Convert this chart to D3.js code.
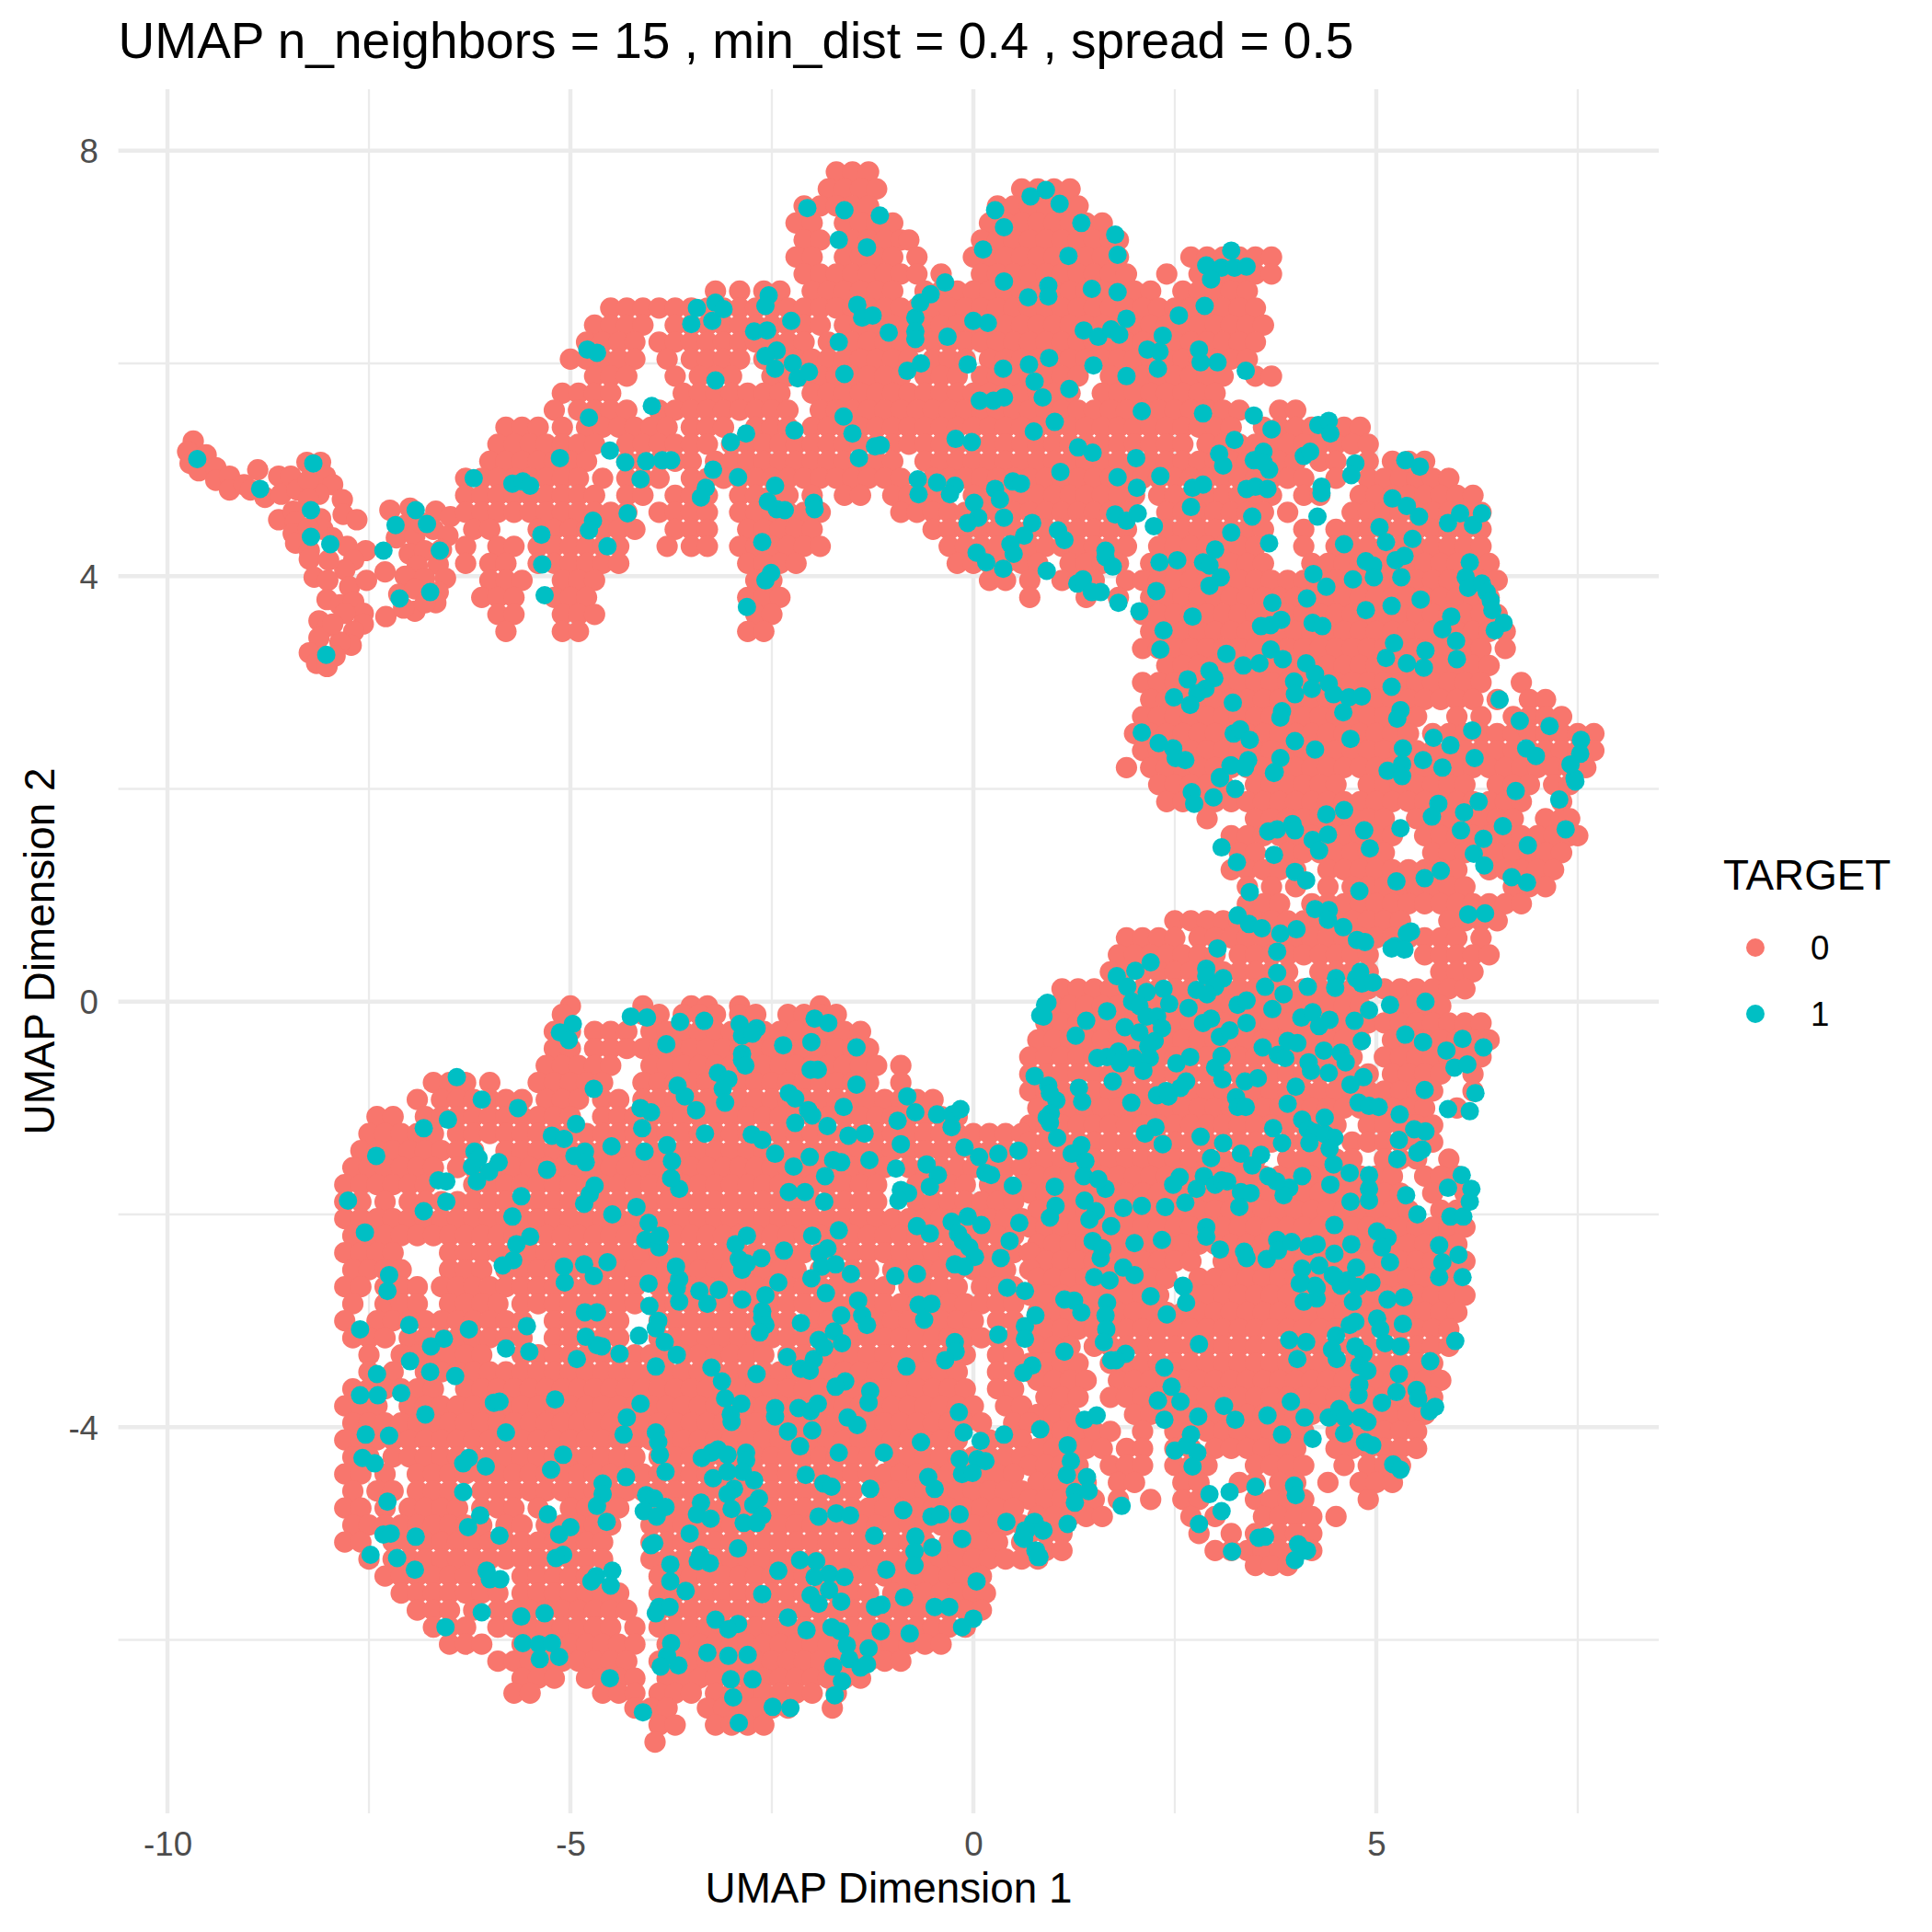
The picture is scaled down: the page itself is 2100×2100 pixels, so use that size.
<!DOCTYPE html>
<html><head><meta charset="utf-8"><script src="https://cdn.jsdelivr.net/npm/d3@7"></script>
<style>html,body{margin:0;padding:0;background:#fff}svg{display:block}</style></head><body>
<svg id="c" width="2100" height="2100"></svg>
<script>
const titleText="UMAP n_neighbors = 15 , min_dist = 0.4 , spread = 0.5";
const xLabel="UMAP Dimension 1", yLabel="UMAP Dimension 2", legendTitle="TARGET";
const categories=["0","1"];
const xMajor=[-10,-5,0,5], xMinor=[-7.5,-2.5,2.5,7.5];
const yMajor=[-4,0,4,8], yMinor=[-6,-2,2,6];
const redTail=[[-9.68,5.27],[-9.75,5.17],[-9.72,5.06],[-9.61,4.99],[-9.52,5.14],[-9.4,5.02],[-9.4,4.9],[-9.23,4.94],[-9.23,4.81],[-9.05,4.86],[-8.88,5],[-8.97,4.81],[-8.79,4.74],[-8.62,4.94],[-8.59,4.77],[-8.47,4.94],[-8.39,4.81],[-8.27,5.07],[-8.1,5.07],[-8.04,4.94],[-7.95,4.86],[-8.12,4.77],[-7.83,4.72],[-7.82,4.58],[-7.65,4.53],[-8.25,4.9],[-8.25,4.72],[-8.62,4.53],[-8.44,4.61],[-8.41,4.51],[-8.1,4.54],[-8.44,4.4],[-8.41,4.31],[-8.07,4.44],[-8.24,4.24],[-8.24,4.16],[-8.25,4.45],[-7.95,4.36],[-7.77,4.28],[-7.54,4.24],[-7.69,4.15],[-7.8,4.06],[-8.18,3.99],[-8.01,3.96],[-7.74,3.9],[-7.53,3.96],[-7.3,4.04],[-8.02,3.78],[-7.86,3.73],[-7.69,3.76],[-7.57,3.65],[-7.8,3.65],[-7.57,3.55],[-7.69,3.48],[-7.72,3.35],[-7.86,3.38],[-8.12,3.58],[-8.01,3.53],[-8.12,3.42],[-8.24,3.28],[-8.15,3.18],[-8.02,3.15],[-7.92,3.25],[-7.29,3.62],[-8.0,4.15],[-7.95,3.55],[-7.24,4.62],[-6.99,4.64],[-6.67,4.61],[-7.05,4.48],[-6.49,4.56],[-7.16,4.36],[-6.93,4.38],[-6.7,4.44],[-6.52,4.38],[-7,4.21],[-6.81,4.24],[-6.64,4.11],[-6.9,4.1],[-7.05,4],[-6.55,3.98],[-6.81,3.98],[-7.13,3.83],[-6.93,3.88],[-6.64,3.85],[-6.67,3.75],[-6.93,3.67],[-7.07,3.7],[-6.8,3.75],[-6.85,4.5],[-6.6,4.25]];
const redUpperRows=[
[7.8,-1.7,-1.5,-1.3],
[7.64,-1.8,-1.6,-1.4,-1.2,.6,.8,1,1.2],
[7.48,-2.1,-1.9,-1.7,-1.5,-1.3,.3,.5,.7,.9,1.1,1.3],
[7.32,-2.2,-2,-1.6,-1.4,-1.2,-1,.2,.4,.6,.8,1,1.2,1.4,1.6],
[7.16,-2.1,-1.9,-1.5,-1.3,-1.1,-.9,-.8,.1,.3,.5,.7,.9,1.1,1.3,1.5,1.7,1.8],
[7,-2.2,-2,-1.6,-1.4,-1.2,-1,-.7,0,.2,.4,.6,.8,1,1.2,1.4,1.6,1.8,2.7,2.9,3.1,3.3,3.5,3.7],
[6.84,-2.1,-1.9,-1.7,-1.5,-1.3,-1.1,-.9,-.7,-.4,.1,.3,.5,.7,.9,1.1,1.3,1.5,1.7,1.9,2.4,2.8,3.1,3.3,3.5,3.7],
[6.68,-3.2,-2.9,-2.6,-2.4,-2,-1.8,-1.6,-1.4,-1.2,-1,-.6,-.4,-.2,0,.2,.4,.6,.8,1,1.2,1.4,1.6,1.8,2,2.2,2.6,2.8,3,3.2,3.4],
[6.52,-4.5,-4.3,-4.1,-3.9,-3.7,-3.5,-3.3,-3.1,-2.9,-2.7,-2.5,-2.3,-2.1,-1.9,-1.7,-1.5,-1.3,-1.1,-.9,-.7,-.5,-.3,-.1,.1,.3,.5,.7,.9,1.1,1.3,1.5,1.7,1.9,2.1,2.3,2.5,2.7,2.9,3.1,3.3,3.5],
[6.36,-4.7,-4.5,-4.3,-4.1,-3.7,-3.5,-3.3,-3.1,-2.9,-2.7,-2.5,-2.3,-2.1,-1.9,-1.6,-1.4,-1.2,-1,-.8,-.6,-.4,-.2,0,.2,.4,.6,.8,1,1.2,1.4,1.6,1.8,2,2.2,2.4,2.6,2.8,3,3.2,3.4,3.6],
[6.2,-4.8,-4.6,-4.4,-4.2,-3.9,-3.7,-3.5,-3.3,-3.1,-2.9,-2.7,-2.5,-2.3,-2.1,-1.8,-1.5,-1.3,-1.1,-.9,-.7,-.5,-.3,-.1,.1,.3,.5,.7,.9,1.1,1.3,1.5,1.7,1.9,2.1,2.3,2.5,2.7,2.9,3.1,3.3,3.5],
[6.04,-5,-4.8,-4.6,-4.4,-4.2,-3.8,-3.5,-3.3,-3.1,-2.9,-2.6,-2.4,-2.2,-2,-1.8,-1.6,-1.4,-1.2,-1,-.8,-.5,-.3,-.1,.2,.4,.6,.8,1,1.2,1.4,1.6,1.8,2,2.2,2.4,2.6,2.8,3,3.2,3.4],
[5.88,-4.7,-4.5,-4.3,-3.7,-3.4,-3.2,-3,-2.5,-2.3,-2.1,-1.9,-1.7,-1.5,-1.3,-1.1,-.9,-.6,-.4,-.2,.1,.3,.5,.7,.9,1.1,1.3,1.7,1.9,2.1,2.3,2.5,2.7,2.9,3.1,3.5,3.7],
[5.72,-5.1,-4.9,-4.7,-4.5,-3.6,-3.4,-3.2,-3,-2.8,-2.6,-2.4,-2,-1.8,-1.6,-1.4,-1.2,-1,-.8,-.6,-.4,-.2,0,.2,.4,.6,.8,1,1.2,1.6,1.8,2,2.2,2.4,2.6,2.8,3],
[5.56,-5.2,-4.9,-4.7,-4.5,-4.3,-3.9,-3.7,-3.5,-3.3,-3.1,-2.9,-2.7,-2.5,-2.3,-1.9,-1.7,-1.5,-1.3,-1.1,-.9,-.7,-.5,-.3,-.1,.1,.3,.5,.7,.9,1.1,1.3,1.5,1.7,1.9,2.1,2.3,2.5,2.7,2.9,3.1,3.3,3.8,4],
[5.4,-5.8,-5.6,-5.4,-5.1,-4.8,-4.6,-4.4,-4.2,-4,-3.8,-3.5,-3.3,-3.1,-2.7,-2.5,-2.3,-2,-1.8,-1.6,-1.4,-1.2,-1,-.8,-.6,-.4,-.2,0,.2,.4,.6,.8,1,1.2,1.4,1.6,1.8,2,2.2,2.4,2.6,2.8,3,3.2,3.6,3.8,4,4.2,4.4,4.6,4.8],
[5.24,-5.9,-5.7,-5.5,-5.3,-5.1,-4.9,-4.7,-4.3,-4.1,-3.9,-3.7,-3.5,-3.3,-3,-2.8,-2.6,-2.4,-2.2,-2,-1.8,-1.6,-1.4,-1.2,-1,-.8,-.6,-.4,-.2,0,.2,.4,.6,.8,1,1.2,1.4,1.6,1.8,2,2.2,2.4,2.6,2.9,3.1,3.3,3.5,3.7,3.9,4.1,4.3,4.5,4.7,4.9],
[5.08,-6,-5.8,-5.6,-5.4,-5.2,-5,-4.8,-4.3,-4.1,-3.9,-3.7,-3.5,-3.2,-3,-2.8,-2.6,-2.4,-2.2,-2,-1.8,-1.6,-1.4,-1.2,-1,-.6,-.4,-.2,0,.2,.4,.6,.8,1,1.2,1.4,1.6,1.8,2,2.2,2.4,2.6,2.8,3,3.2,3.4,3.6,3.8,4,4.3,4.5,4.9,5.2,5.4,5.6],
[4.92,-6.3,-6.1,-5.9,-5.7,-5.5,-5.3,-5.1,-4.9,-4.6,-4.3,-4.1,-3.9,-3.5,-3.3,-3.1,-2.9,-2.7,-2.5,-2.3,-2.1,-1.9,-1.7,-1.5,-1.3,-1.1,-.9,-.5,-.3,-.1,.1,.3,.5,.7,.9,1.1,1.3,1.5,1.7,1.9,2.1,2.3,2.5,2.7,2.9,3.1,3.3,3.5,3.7,3.9,4.1,4.5,4.9,5.1,5.3,5.5,5.7,5.9],
[4.76,-6.3,-6.1,-5.9,-5.7,-5.5,-5.3,-5.1,-4.9,-4.7,-4.3,-4.1,-3.7,-3.5,-3.3,-2.9,-2.7,-2.5,-2.3,-2,-1.6,-1.4,-1,-.8,-.6,-.4,0,.2,.4,.6,.8,1,1.2,1.4,1.6,1.8,2,2.3,2.5,2.7,2.9,3.1,3.3,3.5,3.7,4.1,4.3,4.8,5,5.2,5.4,5.6,5.8,6,6.2],
[4.6,-6.3,-6.1,-5.9,-5.7,-5.5,-5.3,-5.1,-4.9,-4.7,-4.5,-4.3,-3.9,-3.7,-3.5,-3.3,-2.9,-2.7,-2.5,-2.3,-2.1,-1.9,-.9,-.7,-.5,-.3,-.1,.1,.3,.5,.7,.9,1.1,1.3,1.5,1.7,1.9,2.4,2.6,2.8,3,3.2,3.4,3.6,3.9,4.7,4.9,5.1,5.3,5.5,5.7,5.9,6.1,6.3],
[4.44,-6.2,-6,-5.4,-5.2,-5,-4.8,-4.6,-4.4,-4.2,-3.7,-3.5,-3.3,-2.8,-2.6,-2.4,-2.2,-2,-.5,-.3,-.1,.1,.3,.5,.7,.9,1.1,1.3,1.5,1.7,1.9,2.4,2.6,2.8,3,3.2,3.4,3.6,4.1,4.5,4.7,4.9,5.1,5.3,5.5,5.7,5.9,6.1,6.3],
[4.28,-6.3,-5.9,-5.7,-5.4,-5.2,-5,-4.8,-4.6,-4.4,-3.8,-3.5,-3.3,-2.9,-2.7,-2.5,-2.3,-2.1,-1.9,-.3,-.1,.1,.3,.5,.7,.9,1.1,1.3,1.5,1.7,1.9,2.3,2.5,2.7,2.9,3.1,3.3,3.5,4.1,4.5,4.7,4.9,5.1,5.3,5.5,5.7,5.9,6.1,6.3],
[4.12,-6.3,-6,-5.8,-5.4,-5.2,-5,-4.8,-4.6,-4.4,-2.8,-2.6,-2.4,-2.2,-.2,0,.2,.4,.6,.8,1.2,1.4,1.6,1.8,2.2,2.4,2.6,2.8,3,3.2,3.4,3.6,4.2,4.4,4.6,4.8,5,5.2,5.4,5.6,5.8,6,6.2,6.4],
[3.96,-6,-5.8,-5.6,-5.1,-4.9,-4.7,-2.7,-2.5,.2,.4,.7,1.1,1.3,1.5,1.9,2.1,2.3,2.5,2.7,2.9,3.1,3.3,3.5,3.7,3.9,4.1,4.3,4.5,4.7,4.9,5.1,5.3,5.5,5.7,5.9,6.1,6.3,6.5],
[3.8,-6.1,-5.9,-5.7,-5.2,-5,-4.8,-2.8,-2.6,-2.4,.7,1.4,1.8,2.2,2.4,2.6,2.8,3,3.2,3.4,3.6,3.8,4,4.2,4.4,4.6,4.8,5,5.2,5.4,5.6,5.8,6,6.2,6.4],
[3.64,-5.9,-5.7,-5.1,-4.9,-4.7,-2.7,-2.5,2.1,2.3,2.5,2.7,2.9,3.1,3.3,3.5,3.7,3.9,4.1,4.3,4.5,4.7,4.9,5.1,5.3,5.5,5.7,5.9,6.1,6.3,6.5],
[3.48,-5.8,-5.1,-4.9,-2.8,-2.6,2.2,2.4,2.6,2.8,3,3.2,3.4,3.6,3.8,4,4.2,4.4,4.6,4.8,5,5.2,5.4,5.6,5.8,6,6.2,6.4,6.6],
[3.32,2.1,2.3,2.5,2.7,2.9,3.1,3.3,3.5,3.7,3.9,4.1,4.3,4.5,4.7,4.9,5.1,5.3,5.5,5.7,5.9,6.1,6.3,6.6],
[3.16,2.4,2.6,2.8,3,3.2,3.4,3.6,3.8,4,4.2,4.4,4.6,4.8,5,5.2,5.4,5.6,5.8,6,6.2,6.4],
[3,2.1,2.3,2.5,2.7,2.9,3.1,3.3,3.5,3.7,3.9,4.1,4.3,4.5,4.7,4.9,5.1,5.3,5.5,5.7,5.9,6.1,6.3,6.8],
[2.84,2.2,2.4,2.6,2.8,3,3.2,3.4,3.6,3.8,4,4.2,4.4,4.6,4.8,5,5.2,5.4,5.6,5.8,6,6.2,6.5,6.9,7.1],
[2.68,2.1,2.3,2.5,2.7,2.9,3.1,3.3,3.5,3.7,3.9,4.1,4.3,4.5,4.7,4.9,5.1,5.3,5.5,6,6.3,6.7,6.9,7.1,7.3],
[2.52,2,2.2,2.4,2.6,2.8,3,3.2,3.4,3.6,3.8,4,4.2,4.4,4.6,4.8,5,5.2,5.4,5.7,5.9,6.1,6.3,6.5,6.7,6.9,7.1,7.3,7.5,7.7],
[2.36,2.1,2.3,2.5,2.7,2.9,3.1,3.3,3.5,3.7,3.9,4.1,4.3,4.5,4.7,4.9,5.1,5.3,5.5,5.7,5.9,6.1,6.3,6.5,6.7,6.9,7.1,7.3,7.5,7.7],
[2.2,1.9,2.2,2.4,2.6,2.8,3,3.2,3.4,3.6,3.8,4,4.2,4.4,4.6,4.8,5,5.2,5.4,5.6,5.8,6,6.2,6.4,6.6,6.8,7,7.2,7.4,7.6]];
const redRightRows=[
[2.04,2.3,2.5,2.7,2.9,3.1,3.5,3.7,3.9,4.1,4.3,4.5,4.9,5.1,5.3,5.5,5.7,5.9,6.1,6.5,6.7,6.9,7.2,7.4],
[1.88,2.4,2.6,2.8,3,3.2,3.4,3.6,3.8,4,4.2,4.4,4.6,4.8,5,5.2,5.4,5.6,5.8,6,6.2,6.4,6.6,6.8,7.3],
[1.72,2.9,3.5,3.7,3.9,4.1,4.3,4.5,4.7,4.9,5.1,5.5,5.7,5.9,6.1,6.3,6.5,6.7,7.1,7.3,7.4],
[1.56,3.2,3.4,3.6,3.8,4,4.2,4.4,4.6,4.8,5,5.2,5.6,5.8,6,6.2,6.4,6.6,6.8,7,7.2,7.4,7.5],
[1.4,3.3,3.5,3.9,4.1,4.3,4.5,4.7,4.9,5.1,5.7,5.9,6.1,6.3,6.5,6.7,6.9,7.1,7.3],
[1.24,3.2,3.4,3.6,3.8,4,4.4,4.6,4.8,5,5.2,5.4,5.6,5.8,6,6.4,6.6,6.8,7,7.2],
[1.08,3.4,3.7,4,4.4,4.7,4.9,5.1,5.3,5.5,5.7,5.9,6.1,6.7,6.9,7.1],
[.92,3.4,3.6,3.8,4.2,4.4,4.6,4.8,5,5.2,5.4,5.6,5.8,6,6.2,6.4,6.6,6.8],
[.76,2.5,2.7,2.9,3.1,3.3,3.5,3.7,3.9,4.1,4.3,4.5,4.7,4.9,5.1,5.3,5.9,6.1,6.3,6.5],
[.6,1.9,2.1,2.3,2.5,2.8,3,3.2,3.4,3.6,3.8,4,4.2,4.4,4.6,4.8,5,5.2,5.4,5.6,5.8,6,6.3],
[.44,1.8,2,2.2,2.4,2.6,2.8,3,3.3,3.5,3.7,3.9,4.1,4.3,4.5,4.7,4.9,5.6,5.8,6,6.2,6.4],
[.28,1.7,1.9,2.1,2.3,2.5,2.7,2.9,3.1,3.3,3.5,3.7,3.9,4.3,4.5,4.7,4.9,5.8,6,6.2],
[.12,1.1,1.3,1.5,1.7,1.9,2.1,2.3,2.5,2.7,2.9,3.1,3.3,3.5,3.7,3.9,4.1,4.3,4.5,4.7,4.9,5.1,5.3,5.5,5.7,5.9,6.1],
[-.04,1,1.2,1.4,1.6,1.8,2,2.2,2.4,2.6,2.8,3,3.2,3.4,3.6,3.8,4,4.2,4.4,4.6,4.8,5.2,5.4,5.6,5.8],
[-.2,.9,1.1,1.3,1.5,1.7,1.9,2.1,2.3,2.5,2.7,2.9,3.1,3.3,3.5,3.7,3.9,4.1,4.3,4.5,4.7,4.9,5.1,5.3,5.5,5.7,5.9,6.1,6.3]];
const redLowerRows=[
[-.04,-5,-4.1,-3.5,-3.3,-2.9,-1.9],
[-.12,-5.1,-4.1,-3.9,-3.6,-3.4,-3.2,-2.9,-2.7,-2.3,-2.1,-1.9,-1.7],
[-.28,-5.2,-5,-4.7,-4.5,-4.3,-4,-3.8,-3.6,-3.4,-3.2,-3,-2.8,-2.6,-2.4,-2.2,-2,-1.8,-1.6,-1.4],
[-.36,.8,1,1.2,1.4,1.6,1.8,2,2.2,2.4,2.6,2.8,3,3.2,3.4,3.6,3.8,4,4.2,4.4,4.6,4.8,5.2,5.4,5.6,5.8,6,6.2,6.4],
[-.44,-5.2,-5,-4.7,-4.5,-4.3,-4.1,-3.9,-3.7,-3.5,-3.3,-3.1,-2.9,-2.7,-2.5,-2.3,-2.1,-1.9,-1.7,-1.5,-1.3],
[-.52,.7,.9,1.1,1.3,1.5,1.7,1.9,2.1,2.3,2.5,2.7,2.9,3.1,3.3,3.5,3.7,3.9,4.1,4.3,4.5,4.7,5.1,5.3,5.5,5.7,5.9,6.1,6.3],
[-.6,-5.3,-5.1,-4.9,-4.7,-4.5,-4,-3.8,-3.6,-3.4,-3.2,-3,-2.8,-2.6,-2.4,-2.2,-2,-1.8,-1.6,-1.4,-1.2,-.9],
[-.68,.7,.9,1.1,1.3,1.5,1.7,1.9,2.1,2.3,2.5,2.7,2.9,3.1,3.3,3.5,3.7,3.9,4.1,4.3,4.5,4.7,4.9,5.2,5.4,5.6,5.8,6.2],
[-.76,-6.7,-6.5,-6.3,-6,-5.4,-5.2,-5,-4.8,-4.6,-4.1,-3.9,-3.7,-3.5,-3.3,-3.1,-2.9,-2.7,-2.5,-2.3,-2.1,-1.9,-1.7,-1.5,-1.3,-.9],
[-.84,.7,.9,1.1,1.3,1.5,1.7,1.9,2.1,2.3,2.5,2.7,2.9,3.1,3.3,3.5,3.7,3.9,4.1,4.3,4.5,4.7,4.9,5.1,5.3,5.5,5.7,6.2],
[-.92,-6.9,-6.6,-6.4,-6.2,-6,-5.8,-5.6,-5.3,-5.1,-4.9,-4.6,-4.4,-4.1,-3.9,-3.7,-3.5,-3.3,-3.1,-2.9,-2.7,-2.5,-2.3,-2.1,-1.9,-1.7,-1.5,-1.3,-1.1,-.9,-.7,-.5],
[-1,.8,1,1.2,1.4,1.6,1.8,2,2.2,2.4,2.6,2.8,3,3.2,3.4,3.6,3.8,4,4.2,4.4,4.6,4.8,5,5.2,5.4,5.6,6],
[-1.08,-7.4,-7.2,-6.8,-6.6,-6.4,-6.2,-6,-5.8,-5.6,-5.4,-5.2,-5,-4.6,-4.4,-4.2,-4,-3.8,-3.6,-3.4,-3.2,-3,-2.8,-2.6,-2.4,-2.2,-2,-1.8,-1.6,-1.4,-1.2,-1,-.8,-.6,-.4,-.2],
[-1.16,.7,.9,1.1,1.3,1.5,1.7,1.9,2.1,2.3,2.5,2.7,2.9,3.1,3.3,3.5,3.7,3.9,4.1,4.3,4.5,4.9,5.1,5.3,5.5,5.7],
[-1.24,-7.5,-7.3,-7.1,-6.9,-6.7,-6.4,-6.2,-6,-5.8,-5.6,-5.4,-5.2,-5,-4.8,-4.6,-4.4,-4.2,-4,-3.8,-3.6,-3.4,-3.2,-3,-2.8,-2.6,-2.4,-2.2,-2,-1.8,-1.6,-1.4,-1.2,-1,-.8,-.6,-.4,-.2,0,.2,.4,.6],
[-1.32,.7,.9,1.1,1.3,1.5,1.7,1.9,2.1,2.3,2.5,2.7,2.9,3.1,3.3,3.5,3.7,3.9,4.1,4.3,4.7,4.9,5.1,5.3,5.5,5.7],
[-1.4,-7.6,-7.4,-7.2,-7,-6.8,-6.6,-6.4,-6.2,-5.8,-5.6,-5.4,-5.2,-5,-4.8,-4.6,-4.4,-4.2,-4,-3.8,-3.6,-3.4,-3.2,-3,-2.8,-2.6,-2.4,-2.2,-2,-1.8,-1.6,-1.4,-1.2,-1,-.8,-.6,-.4,-.2,0,.2,.4,.6],
[-1.48,.7,.9,1.1,1.3,1.5,1.7,1.9,2.1,2.3,2.5,2.7,2.9,3.1,3.3,3.5,3.9,4.1,4.3,4.5,4.7,5.1,5.3,5.5,5.9],
[-1.56,-7.7,-7.5,-7.3,-7.1,-6.9,-6.7,-6.4,-6.2,-5.9,-5.7,-5.5,-5.3,-5.1,-4.9,-4.7,-4.5,-4.3,-4.1,-3.9,-3.7,-3.5,-3.3,-3.1,-2.9,-2.7,-2.5,-2.3,-2.1,-1.9,-1.7,-1.5,-1.3,-1.1,-.8,-.6,-.4,-.2,0,.2,.4,.6],
[-1.64,.8,1,1.2,1.4,1.6,1.8,2,2.2,2.4,2.6,2.8,3,3.2,3.4,3.6,3.8,4,4.2,4.4,4.6,4.8,5,5.2,5.6,5.8,6],
[-1.72,-7.8,-7.6,-7.4,-7.2,-7,-6.8,-6.2,-6,-5.8,-5.6,-5.4,-5.2,-5,-4.8,-4.6,-4.4,-4.2,-4,-3.8,-3.6,-3.4,-3.2,-3,-2.8,-2.6,-2.4,-2.2,-2,-1.8,-1.6,-1.4,-1.2,-.7,-.5,-.3,-.1,.2,.4,.6],
[-1.8,.7,.9,1.1,1.3,1.5,1.7,1.9,2.1,2.3,2.5,2.7,2.9,3.1,3.3,3.5,3.7,3.9,4.1,4.3,4.5,4.7,4.9,5.1,5.3,5.7,6.1],
[-1.88,-7.8,-7.6,-7.3,-7,-6.8,-6.6,-6.4,-6.2,-6,-5.8,-5.6,-5.4,-5.2,-5,-4.8,-4.6,-4.4,-4.2,-4,-3.8,-3.6,-3.4,-3.2,-3,-2.8,-2.6,-2.4,-2.2,-2,-1.8,-1.6,-1.4,-1.2,-.7,-.5,-.3,-.1,.1,.3,.5],
[-1.96,.8,1,1.2,1.4,1.6,1.8,2,2.2,2.4,2.6,2.8,3,3.2,3.4,3.6,3.8,4,4.2,4.4,4.6,4.8,5,5.2,5.4,5.8,6],
[-2.04,-7.8,-7.6,-7.4,-7.2,-7,-6.8,-6.6,-6.4,-6.2,-6,-5.8,-5.6,-5.4,-5.2,-5,-4.8,-4.6,-4.4,-4.2,-4,-3.8,-3.6,-3.4,-3.2,-3,-2.8,-2.6,-2.4,-2.2,-2,-1.8,-1.6,-1.4,-1.2,-1,-.8,-.6,-.4,-.2,0,.2,.4,.6],
[-2.12,.7,.9,1.1,1.3,1.5,1.7,1.9,2.1,2.3,2.5,2.7,2.9,3.1,3.3,3.5,3.7,3.9,4.1,4.3,4.5,4.7,4.9,5.1,5.3,5.5,5.7,5.9,6.1],
[-2.2,-7.7,-7.5,-7.3,-7.1,-6.9,-6.7,-6.5,-6.3,-6.1,-5.9,-5.7,-5.5,-5.3,-5.1,-4.9,-4.7,-4.5,-4.3,-4.1,-3.9,-3.7,-3.5,-3.3,-3.1,-2.9,-2.7,-2.5,-2.3,-2.1,-1.9,-1.7,-1.5,-1.3,-1.1,-.9,-.7,-.5,-.3,-.1,.1,.3,.5],
[-2.28,.8,1,1.2,1.4,1.6,1.8,2,2.2,2.4,2.6,2.8,3,3.2,3.4,3.6,3.8,4,4.2,4.4,4.6,4.8,5,5.2,5.4,5.6,5.8,6],
[-2.36,-7.8,-7.6,-7.4,-7.2,-6.5,-6.3,-6.1,-5.9,-5.7,-5.5,-5.3,-5.1,-4.9,-4.7,-4.5,-4.3,-4.1,-3.9,-3.7,-3.5,-3.3,-3.1,-2.9,-2.7,-2.5,-2.3,-2.1,-1.9,-1.7,-1.5,-1.3,-1.1,-.9,-.7,-.5,-.3,-.1,.1,.3,.5,.7],
[-2.44,.9,1.1,1.3,1.5,1.7,1.9,2.1,2.3,2.5,2.7,3.1,3.3,3.5,3.7,3.9,4.1,4.3,4.5,4.7,4.9,5.1,5.3,5.5,5.7,5.9,6.1],
[-2.52,-7.7,-7.5,-7.3,-7.1,-6.5,-6.3,-6.1,-5.8,-5.6,-5.4,-5.2,-5,-4.8,-4.6,-4.4,-4.2,-4,-3.8,-3.6,-3.4,-3.2,-3,-2.8,-2.6,-2.4,-2.2,-1.9,-1.7,-1.5,-1.3,-1,-.8,-.6,-.4,-.2,0,.2,.4,.7],
[-2.6,.8,1,1.2,1.4,1.6,1.8,2,2.2,2.4,2.8,3,3.2,3.4,3.6,3.8,4,4.2,4.4,4.6,4.8,5,5.2,5.4,5.6,5.8,6],
[-2.68,-7.8,-7.6,-7.3,-7.1,-6.9,-6.6,-6.4,-6.2,-6,-5.8,-5.6,-5.4,-5.2,-5,-4.8,-4.6,-4.4,-4.2,-3.9,-3.7,-3.5,-3.3,-3.1,-2.9,-2.7,-2.5,-2.3,-2.1,-1.9,-1.7,-1.5,-1.3,-1.1,-.8,-.6,-.4,-.2,.1,.3,.5],
[-2.76,.7,.9,1.1,1.3,1.5,1.7,1.9,2.1,2.3,2.7,2.9,3.1,3.3,3.5,3.7,3.9,4.1,4.3,4.5,4.7,4.9,5.1,5.3,5.5,5.7,5.9,6.1],
[-2.84,-7.7,-7.3,-7.1,-6.9,-6.5,-6.3,-6.1,-5.9,-5.6,-5.4,-5.2,-5,-4.8,-4.6,-4.4,-4.2,-3.9,-3.7,-3.5,-3.3,-3.1,-2.9,-2.7,-2.5,-2.3,-2.1,-1.9,-1.7,-1.5,-1.3,-1.1,-.9,-.7,-.5,-.3,-.1,.1,.3,.5],
[-2.92,.8,1,1.2,1.4,1.6,1.8,2,2.2,2.4,2.6,2.8,3,3.2,3.4,3.6,3.8,4,4.2,4.4,4.6,4.8,5,5.2,5.4,5.6,5.8,6],
[-3,-7.8,-7.4,-7.2,-7,-6.8,-6.6,-6.4,-6.2,-6,-5.8,-5.6,-5.2,-5,-4.8,-4.6,-4.4,-3.9,-3.7,-3.5,-3.3,-3.1,-2.9,-2.7,-2.5,-2.3,-2,-1.8,-1.6,-1.4,-1.2,-1,-.8,-.6,-.4,-.2,0,.3,.5],
[-3.08,.7,.9,1.1,1.3,1.5,1.7,1.9,2.1,2.3,2.5,2.7,2.9,3.1,3.3,3.5,3.7,3.9,4.1,4.3,4.5,4.7,4.9,5.1,5.3,5.5,5.7,5.9],
[-3.16,-7.7,-7.5,-7.3,-7,-6.8,-6.6,-6.4,-6.2,-6,-5.8,-5.6,-5.2,-5,-4.8,-4.6,-4.4,-3.9,-3.7,-3.5,-3.3,-3.1,-2.9,-2.7,-2.5,-2.3,-2.1,-1.9,-1.7,-1.5,-1.3,-1.1,-.9,-.7,-.5,-.3,-.1,.1,.3,.5],
[-3.24,.8,1,1.2,1.5,1.7,1.9,2.1,2.3,2.5,2.7,2.9,3.1,3.3,3.5,3.7,3.9,4.1,4.3,4.5,4.7,4.9,5.1,5.3,5.5,5.7,5.9],
[-3.32,-7.5,-7.1,-6.9,-6.7,-6.5,-6.3,-6.1,-5.6,-5.4,-5.2,-5,-4.8,-4.6,-4.4,-4.2,-4,-3.8,-3.6,-3.4,-3.2,-3,-2.8,-2.6,-2.3,-2.1,-1.9,-1.7,-1.5,-1.3,-1.1,-.9,-.7,-.5,-.3,-.1,.3,.5],
[-3.4,.7,.9,1.1,1.3,1.7,1.9,2.1,2.3,2.5,2.7,2.9,3.1,3.3,3.5,3.7,3.9,4.1,4.3,4.5,4.7,4.9,5.1,5.3,5.5,5.7],
[-3.48,-7.5,-7.2,-6.8,-6.6,-6.4,-6.2,-6,-5.8,-5.6,-5.4,-5.2,-5,-4.8,-4.6,-4.4,-4.2,-4,-3.8,-3.6,-3.4,-3.2,-3,-2.8,-2.6,-2.4,-2.2,-2,-1.8,-1.6,-1.4,-1.2,-1,-.8,-.6,-.4,-.2,.3,.5,.7],
[-3.56,.8,1,1.2,1.4,1.8,2,2.2,2.4,2.6,2.8,3,3.2,3.4,3.6,3.8,4,4.2,4.4,4.6,4.8,5,5.2,5.4,5.6,5.8],
[-3.64,-7.7,-7.5,-7.3,-7.1,-6.9,-6.7,-6.3,-6.1,-5.9,-5.7,-5.5,-5.3,-5.1,-4.9,-4.7,-4.5,-4.3,-4.1,-3.9,-3.7,-3.5,-3.3,-3.1,-2.9,-2.7,-2.5,-2.3,-2.1,-1.9,-1.7,-1.5,-1.3,-1.1,-.9,-.7,-.5,-.3,-.1,.3,.5],
[-3.72,.9,1.1,1.3,1.7,1.9,2.1,2.3,2.5,2.7,2.9,3.1,3.3,3.5,3.7,3.9,4.1,4.3,4.5,4.7,4.9,5.1,5.3,5.5,5.7],
[-3.8,-7.8,-7.6,-7.4,-7,-6.8,-6.6,-6.4,-6.2,-6,-5.8,-5.6,-5.4,-5.2,-5,-4.8,-4.6,-4.4,-4.2,-4,-3.8,-3.6,-3.4,-3.2,-3,-2.8,-2.6,-2.4,-2.2,-2,-1.8,-1.6,-1.4,-1.2,-1,-.8,-.6,-.4,-.2,0,.4,.6],
[-3.88,.8,1,1.2,2,2.2,2.4,2.6,2.8,3,3.2,3.4,3.6,3.8,4,4.2,4.4,4.6,4.8,5,5.2,5.4,5.6],
[-3.96,-7.7,-7.5,-7.3,-7.1,-6.9,-6.7,-6.5,-6.3,-6.1,-5.9,-5.7,-5.5,-5.3,-5.1,-4.9,-4.7,-4.5,-4.3,-4.1,-3.9,-3.7,-3.5,-3.3,-3.1,-2.9,-2.7,-2.5,-2.3,-2.1,-1.9,-1.7,-1.5,-1.3,-1.1,-.9,-.7,-.5,-.3,-.1,.1,.5,.7],
[-4.04,.9,1.1,1.3,1.5,1.7,2.1,2.5,2.7,2.9,3.1,3.3,3.5,3.7,3.9,4.1,4.5,4.7,4.9,5.1,5.3,5.5],
[-4.12,-7.8,-7.6,-7.4,-7.2,-7,-6.8,-6.6,-6.4,-6.2,-6,-5.8,-5.6,-5.4,-5.2,-5,-4.8,-4.6,-4.4,-4.2,-4,-3.8,-3.6,-3.4,-3.2,-3,-2.8,-2.6,-2.4,-2.2,-2,-1.8,-1.6,-1.4,-1.2,-1,-.8,-.6,-.4,-.2,.2,.4,.6],
[-4.2,.8,1,1.2,1.4,1.6,1.9,2.1,2.5,2.7,3,3.2,3.4,3.6,3.8,4,4.5,4.7,4.9,5.1,5.3,5.5],
[-4.28,-7.7,-7.5,-7.2,-7,-6.8,-6.6,-6.4,-6.2,-6,-5.8,-5.6,-5.4,-5.2,-5,-4.8,-4.6,-4.4,-4.2,-3.9,-3.7,-3.5,-3.3,-3.1,-2.9,-2.7,-2.5,-2.3,-2.1,-1.9,-1.7,-1.5,-1.3,-1,-.8,-.6,-.4,-.2,0,.2,.4,.6],
[-4.36,.7,.9,1.1,1.3,1.7,1.9,2.1,2.5,2.7,2.9,3.5,3.7,3.9,4.1,4.6,4.9,5.1,5.3],
[-4.44,-7.8,-7.6,-7.3,-6.9,-6.7,-6.5,-6.3,-6.1,-5.9,-5.7,-5.5,-5.3,-5.1,-4.9,-4.7,-4.5,-4.3,-4.1,-3.9,-3.7,-3.5,-3.3,-3.1,-2.9,-2.7,-2.5,-2.3,-2.1,-1.9,-1.7,-1.5,-1.3,-1.1,-.9,-.7,-.5,-.3,-.1,.1,.3,.5],
[-4.52,.8,1,1.2,1.4,1.8,2,2.6,2.8,3.3,3.5,3.8,4,4.4,4.8,5,5.2],
[-4.6,-7.7,-7.4,-7.2,-6.9,-6.7,-6.5,-6.1,-5.9,-5.7,-5.5,-5.3,-5.1,-4.9,-4.7,-4.5,-4.3,-4.1,-3.9,-3.7,-3.5,-3.3,-3.1,-2.9,-2.7,-2.5,-2.3,-2.1,-1.9,-1.7,-1.5,-1.2,-1,-.8,-.6,-.4,-.2,0,.2,.4,.6],
[-4.68,.7,.9,1.1,1.3,1.5,1.8,2.2,2.6,2.8,3.5,3.7,3.9,4.1,4.9],
[-4.76,-7.8,-7.6,-7.3,-7,-6.8,-6.6,-6.4,-6.1,-5.9,-5.7,-5.4,-5,-4.8,-4.6,-4.4,-3.9,-3.7,-3.5,-3.3,-3.1,-2.9,-2.7,-2.5,-2.3,-2.1,-1.9,-1.7,-1.5,-1.3,-1.1,-.9,-.7,-.5,-.3,-.1,.1,.3,.5],
[-4.84,.8,1,1.2,1.4,1.6,2.7,3,3.6,3.8,4,4.2,4.5],
[-4.92,-7.7,-7.5,-7.3,-7.1,-6.9,-6.7,-6.5,-6.3,-6.1,-5.8,-5.6,-5.3,-5.1,-4.9,-4.7,-4.5,-4,-3.8,-3.6,-3.4,-3.2,-3,-2.8,-2.6,-2.4,-2.2,-2,-1.8,-1.6,-1.4,-1.2,-1,-.8,-.6,-.4,-.2,0,.2,.4,.6],
[-5,.7,.9,1.1,2.8,3.2,3.5,3.8,4,4.2],
[-5.08,-7.8,-7.6,-7.2,-7,-6.8,-6.6,-6.4,-6.2,-6,-5.8,-5.6,-5.4,-5.2,-5,-4.8,-4.6,-4,-3.8,-3.6,-3.4,-3.2,-3,-2.8,-2.6,-2.4,-2.2,-2,-1.8,-1.6,-1.4,-1.2,-1,-.8,-.6,-.3,-.1,.1,.3,.6],
[-5.16,.7,.9,1.1,3,3.2,3.4,3.6,3.8,4,4.2],
[-5.24,-7.5,-7.2,-7,-6.8,-6.6,-6.4,-6.2,-6,-5.8,-5.6,-5.4,-5.2,-5,-4.8,-4.6,-4,-3.8,-3.6,-3.4,-3.2,-3,-2.8,-2.6,-2.4,-2.2,-2,-1.8,-1.6,-1.4,-1.2,-1,-.8,-.6,-.4,-.2,0,.2,.4,.6,.8],
[-5.3,3.5,3.7,3.9],
[-5.4,-7.3,-7.1,-6.9,-6.7,-6.5,-6.3,-6.1,-5.6,-5.4,-5.2,-5,-4.8,-3.9,-3.7,-3.5,-3.3,-3.1,-2.9,-2.7,-2.5,-2.3,-2.1,-1.9,-1.7,-1.5,-1.3,-1.1,-.9,-.7,-.5,-.3,-.1,.1],
[-5.56,-7.1,-6.9,-6.7,-6.5,-6.3,-6.1,-5.9,-5.6,-5.4,-5.2,-5,-4.8,-4.6,-4.4,-3.9,-3.7,-3.5,-3.3,-3.1,-2.9,-2.7,-2.5,-2.3,-2.1,-1.9,-1.7,-1.5,-1.3,-1,-.8,-.6,-.4,-.2,0,.15],
[-5.72,-6.9,-6.7,-6.5,-6.2,-5.9,-5.7,-5.5,-5.3,-5.1,-4.9,-4.7,-4.5,-4.3,-3.9,-3.7,-3.5,-3.3,-3.1,-2.9,-2.7,-2.5,-2.3,-2.1,-1.9,-1.7,-1.5,-1.3,-1.1,-.9,-.7,-.5,-.3,-.1,.1],
[-5.88,-6.7,-6.5,-6.3,-5.9,-5.7,-5.5,-5.3,-5.1,-4.9,-4.7,-4.5,-4.2,-3.9,-3.7,-3.5,-3.3,-3.1,-2.9,-2.7,-2.5,-2.3,-2.1,-1.9,-1.7,-1.5,-1.3,-1.1,-.9,-.7,-.5,-.3,-.1],
[-6.04,-6.5,-6.3,-6.1,-5.6,-5.4,-5.2,-5,-4.8,-4.6,-4.4,-4.2,-3.8,-3.6,-3.4,-3.2,-3,-2.8,-2.6,-2.4,-2.2,-2,-1.8,-1.6,-1.4,-1.2,-1,-.8,-.6,-.4],
[-6.2,-5.9,-5.7,-5.5,-5.3,-5.1,-4.9,-4.7,-4.5,-4.3,-3.9,-3.7,-3.5,-3.3,-3.1,-2.9,-2.7,-2.5,-2.3,-2.1,-1.9,-1.7,-1.5,-1.3,-1.1,-.9],
[-6.36,-5.6,-5.4,-5.2,-4.8,-4.6,-4.4,-4.2,-3.8,-3.6,-3.4,-3.2,-3,-2.8,-2.6,-2.4,-2.2,-2,-1.8,-1.6,-1.4],
[-6.5,-5.7,-5.5,-4.6,-4.4,-4.2,-3.9,-3.7,-3.5,-3.2,-3,-2.8,-2.6,-2.4,-2.2,-2,-1.7],
[-6.64,-4.2,-4,-3.8,-3.3,-3.1,-2.9,-2.7,-2.5,-2.3,-1.75],
[-6.8,-3.9,-3.7,-3.2,-3,-2.8,-2.6],
[-6.96,-3.95]];
const tealUpper=[[-9.63,5.1],[-8.19,5.06],[-8.85,4.82],[-8.22,4.62],[-8.22,4.37],[-7.98,4.3],[-8.03,3.26],[-6.2,4.92],[-7.32,4.24],[-7.17,4.48],[-6.92,4.62],[-6.78,4.49],[-6.62,4.24],[-7.12,3.79],[-6.74,3.85],[-5.72,4.87],[-5.59,4.89],[-5.5,4.85],[-5.13,5.11],[-5.36,4.39],[-5.35,4.11],[-5.32,3.82],[-4.77,5.49],[-4.51,5.18],[-4.32,5.07],[-4.06,5.08],[-3.86,5.09],[-3.75,5.09],[-3.99,5.6],[-4.13,4.91],[-4.29,4.59],[-4.72,4.52],[-4.77,4.43],[-4.54,4.28],[-4.79,6.13],[-4.67,6.1],[-3.43,6.52],[-3.5,6.37],[-3.24,6.4],[-3.2,6.57],[-3.1,6.51],[-2.54,6.64],[-2.58,6.54],[-2.72,6.3],[-2.56,6.31],[-2.26,6.4],[-2.44,6.12],[-2.58,6.07],[-2.46,5.95],[-2.24,6],[-2.18,5.86],[-2.04,5.92],[-3.2,5.84],[-3.23,5],[-2.92,4.93],[-3.32,4.83],[-3.38,4.74],[-3.01,5.26],[-2.82,5.34],[-2.22,5.37],[-2.46,4.85],[-2.55,4.7],[-2.44,4.63],[-2.34,4.62],[-1.98,4.69],[-1.97,4.63],[-2.62,4.32],[-2.51,4.03],[-2.58,3.96],[-2.81,3.71],[-2.06,7.46],[-1.6,7.44],[-1.67,7.16],[-1.32,7.09],[-1.44,6.55],[-1.38,6.43],[-1.25,6.45],[-1.67,6.2],[-1.6,5.9],[-1.61,5.5],[-1.5,5.34],[-1.42,5.11],[-1.22,5.22],[-1.16,7.39],[-1.05,6.29],[-1.15,5.23],[-.82,5.93],[-.65,6],[-.72,6.43],[-.72,6.3],[-.72,6.23],[-.66,6.57],[-.53,6.65],[-.35,6.76],[-.32,6.25],[0,6.4],[.18,6.38],[-.07,5.99],[.37,5.95],[.12,7.07],[.38,7.28],[.27,7.44],[.71,7.57],[.9,7.63],[1.07,7.5],[1.34,7.32],[1.76,7.21],[1.79,7.02],[1.18,7.01],[.38,6.77],[.68,6.62],[.93,6.73],[.93,6.63],[1.47,6.7],[1.79,6.67],[1.9,6.42],[1.37,6.31],[1.55,6.25],[1.71,6.32],[1.81,6.27],[2.35,6.26],[2.16,6.13],[2.31,6.11],[2.29,5.95],[1.9,5.88],[1.49,5.98],[.94,6.05],[.69,5.99],[.76,5.83],[.86,5.68],[1.19,5.76],[.08,5.65],[.25,5.65],[.38,5.68],[1.01,5.45],[.75,5.36],[-.22,5.29],[-.02,5.26],[1.3,5.21],[1.48,5.16],[2.02,5.11],[2.09,5.55],[2.85,5.53],[3.48,5.51],[3.7,5.38],[3.24,5.28],[3.05,5.15],[3.1,5.04],[2.55,6.45],[2.87,6.54],[2.8,6.13],[2.82,6.01],[3.03,6.01],[3.38,5.93],[3.2,7.06],[2.89,6.92],[3.08,6.9],[3.24,6.9],[3.39,6.91],[2.95,6.79],[4.28,5.42],[4.41,5.46],[4.43,5.34],[4.1,5.13],[4.18,5.17],[3.48,5.09],[3.6,5.17],[3.67,5],[3.6,5.07],[4.74,5.06],[4.69,4.95],[5.36,5.09],[5.54,5.03],[1.08,4.98],[1.79,4.93],[2.32,4.94],[2.03,4.83],[2.72,4.83],[2.85,4.86],[3.39,4.82],[3.5,4.84],[3.65,4.82],[4.32,4.84],[4.32,4.78],[-.69,4.91],[-.68,4.77],[-.45,4.88],[-.23,4.85],[-.29,4.77],[.49,4.89],[.59,4.87],[.27,4.82],[.33,4.72],[.01,4.69],[.06,4.55],[-.07,4.5],[.38,4.55],[.73,4.5],[.63,4.38],[1.05,4.43],[1.13,4.34],[.46,4.3],[.5,4.21],[.04,4.22],[.16,4.13],[.37,4.07],[.91,4.05],[1.64,4.24],[1.64,4.18],[1.73,4.09],[1.29,3.93],[1.36,3.97],[1.47,3.85],[1.58,3.85],[1.8,3.75],[2.06,3.67],[2.27,3.86],[1.76,4.58],[1.9,4.52],[2.04,4.59],[2.24,4.47],[2.7,4.65],[2.31,4.13],[2.53,4.15],[2.85,4.13],[2.93,4.1],[3,4.25],[3.2,4.41],[3.46,4.56],[3.67,4.31],[4.27,4.56],[4.6,4.3],[5.04,4.46],[5.12,4.32],[5.45,4.35],[5.2,4.73],[5.38,4.66],[5.53,4.56],[5.89,4.5],[6.04,4.59],[6.2,4.48],[6.31,4.59],[4.87,4.14],[4.96,4.1],[4.97,3.99],[5.24,4.15],[5.35,4.19],[5.31,3.99],[4.71,3.97],[4.22,4.02],[4.38,3.9],[4.14,3.79],[3.71,3.75],[3.07,3.99],[2.93,3.91],[6.16,4.13],[6.11,3.99],[6.14,3.89],[6.31,3.93],[6.37,3.85],[6.42,3.77],[6.44,3.68],[6.58,3.56],[6.47,3.49],[5.93,3.62],[5.82,3.5],[5.99,3.39],[6,3.22],[5.55,3.78],[5.19,3.72],[4.87,3.68],[4.21,3.56],[4.33,3.53],[3.82,3.59],[3.69,3.54],[3.57,3.53],[2.72,3.62],[2.36,3.49],[2.32,3.31],[3.14,3.27],[3.35,3.16],[3.55,3.18],[3.69,3.31],[3.84,3.22],[4.13,3.18],[4.24,3.08],[3.98,3.01],[3.99,2.89],[4.2,2.94],[4.41,2.99],[4.47,2.89],[4.66,2.86],[4.82,2.87],[4.59,2.72],[5.22,3.37],[5.12,3.23],[5.38,3.18],[5.61,3.3],[5.59,3.14],[5.19,2.96],[5.3,2.74],[5.26,2.66],[6.53,2.84],[6.78,2.64],[7.15,2.59],[7.54,2.46],[7.53,2.33],[7.41,2.23],[7.46,2.1],[6.86,2.38],[6.98,2.31],[6.19,2.55],[6.22,2.29],[5.82,2.2],[5.92,2.41],[5.71,2.48],[5.58,2.27],[5.33,2.38],[5.32,2.23],[5.14,2.17],[5.32,2.12],[2.93,3.11],[2.99,3.04],[2.88,2.94],[2.78,2.9],[2.66,3.03],[2.49,2.86],[2.69,2.79],[3.22,2.81],[3.83,2.73],[3.81,2.67],[2.09,2.53],[2.3,2.43],[2.48,2.38],[2.51,2.29],[2.63,2.27],[3.23,2.52],[3.31,2.56],[3.43,2.46],[3.99,2.45],[4.24,2.37],[4.68,2.47],[3.81,2.29],[3.41,2.27],[3.2,2.22],[3.37,2.2],[3.73,2.15],[3.06,2.11]];
const tealRight=[[2.71,1.97],[2.74,1.86],[2.98,1.92],[3.25,2],[3.06,2.1],[3.19,2.22],[3.37,2.21],[3.74,2.16],[4.38,1.76],[4.6,1.8],[3.66,1.6],[3.77,1.62],[3.96,1.67],[3.99,1.61],[4.21,1.52],[4.4,1.57],[4.29,1.42],[4.85,1.61],[4.92,1.44],[5.3,1.63],[5.77,1.86],[5.69,1.74],[6.09,1.78],[6.27,1.88],[6.05,1.61],[6.33,1.53],[6.57,1.65],[6.73,1.98],[7.27,1.9],[7.35,1.62],[6.88,1.47],[6.21,1.39],[6.34,1.28],[6.68,1.17],[6.87,1.12],[7.47,2.07],[3.08,1.45],[3.27,1.31],[3.73,1.38],[3.99,1.22],[4.13,1.14],[3.43,1.03],[4.79,1.04],[5.25,1.13],[5.6,1.16],[5.8,1.23],[3.28,.81],[3.42,.73],[3.58,.69],[3.81,.64],[4.01,.68],[4.24,.87],[4.41,.86],[4.4,.77],[4.59,.7],[4.76,.58],[4.86,.56],[6.14,.82],[6.35,.83],[5.43,.66],[5.38,.64],[5.23,.52],[5.19,.5],[5.35,.49],[3.03,.5],[3.77,.47],[3.77,.27],[2.2,.37],[2.01,.29],[1.78,.24],[1.91,.14],[2.15,.09],[2.36,.12],[2.43,-.02],[1.97,0],[2.06,-.04],[1.66,-.09],[2.67,-.06],[2.89,.31],[2.89,.24],[3.1,.22],[3,.14],[2.77,.11],[2.9,.07],[3.28,-.03],[3.39,.01],[3.62,.14],[3.85,.07],[3.71,-.07],[4.15,.14],[4.5,.22],[4.49,.13],[4.8,.28],[4.75,.22],[4.82,.17],[4.96,.18],[5.17,-.03],[5.61,0],[4.91,-.08],[4.73,-.18],[4.07,-.15],[4.21,-.1],[4.42,-.17],[4.29,-.23],[2.15,-.14],[2.28,-.14],[1.88,-.24],[2.06,-.29],[2.34,-.25],[2.25,-.37],[2.17,-.42],[1.8,-.47],[1.66,-.52],[1.82,-.58],[1.99,-.53],[2.19,-.53],[2.11,-.65],[1.73,-.75],[1.96,-.95],[2.52,-.58],[2.69,-.52],[2.85,-.2],[2.95,-.16],[3.06,-.33],[3.18,-.27],[3.39,-.2],[3.08,-.51],[3,-.62],[3.09,-.73],[3.37,-.75],[3.53,-.72],[3.59,-.43],[3.9,-.37],[4.02,-.39],[3.78,-.5],[3.87,-.53],[4.35,-.46],[4.56,-.48],[4.62,-.57],[4.16,-.57],[4.19,-.65],[4.41,-.67],[4.82,-.37],[5.36,-.31],[5.58,-.38],[5.87,-.46],[6.07,-.35],[6.33,-.43],[5.97,-.62],[6.13,-.59],[6.23,-.86],[5.89,-1.01],[6.16,-1.03],[5.6,-.83],[4.84,-.71],[4.68,-.78],[4,-.8],[3.9,-.96],[2.64,-.75],[2.57,-.81],[2.39,-.84],[2.28,-.88],[2.42,-.89],[3.26,-.9],[3.28,-.99],[3.38,-.99],[4.78,-.95],[4.91,-.98],[5.03,-.99],[5.29,-1.06],[5.47,-1.2],[5.61,-1.22],[5.28,-1.3],[5.57,-1.39],[5.51,-1.42],[5.26,-1.48],[4.08,-1.11],[4.36,-1.09],[3.72,-1.19],[3.83,-1.33],[4.15,-1.2],[4.24,-1.23],[4.37,-1.25],[4.48,-1.28],[4.17,-1.33],[4.42,-1.38],[4.47,-1.53],[4.67,-1.61],[4.91,-1.63],[4.91,-1.76],[4.43,-1.72],[4.68,-1.88],[4.91,-1.87],[5.37,-1.82],[5.51,-2],[4.08,-1.64],[3.92,-1.75],[3.85,-1.82],[3.76,-1.69],[3.66,-1.64],[3.57,-1.44],[3.46,-1.54],[3.32,-1.43],[3.1,-1.33],[2.95,-1.47],[2.82,-1.27],[2.26,-1.18],[2.13,-1.24],[2.35,-1.34],[2.56,-1.65],[2.48,-1.72],[2.86,-1.64],[2.77,-1.76],[3,-1.72],[3.08,-1.68],[3.15,-1.69],[3.32,-1.79],[3.44,-1.8],[3.3,-1.93],[2.63,-1.89],[2.38,-1.93],[2.09,-1.92],[1.86,-1.94],[1.71,-2.11],[1.64,-1.76],[2.89,-2.12],[2.89,-2.21],[2.34,-2.24],[2,-2.27],[3.06,-2.33],[3.36,-2.35],[3.39,-2.41],[3.64,-2.42],[3.77,-2.24],[3.78,-2.34],[3.95,-2.26],[4.16,-2.3],[4.26,-2.28],[4.48,-2.1],[4.48,-2.37],[4.69,-2.28],[5.01,-2.16],[5.14,-2.22],[5.07,-2.31],[5.17,-2.45],[5.78,-2.29],[5.82,-2.45],[6.02,-2.38],[5.78,-2.59],[6.07,-2.59],[5.92,-2.02],[6.08,-2.02],[6.06,-1.63],[5.89,-1.75],[6.18,-1.76],[6.16,-1.88],[1.86,-2.5],[2,-2.57],[1.69,-2.62],[2.6,-2.67],[4.08,-2.51],[4.29,-2.48],[4.46,-2.57],[4.75,-2.5],[4.07,-2.64],[4.24,-2.67],[4.64,-2.62],[4.94,-2.64],[1.13,-2.8],[1.25,-2.81],[1.34,-2.92],[1.5,-2.59],[1.58,-2.41],[1.66,-2.83],[1.64,-2.95],[1.65,-3.08],[1.62,-3.2],[1.13,-3.29],[1.89,-3.31],[1.77,-3.37],[1.71,-3.37],[2.2,-2.77],[2.4,-2.94],[2.61,-2.68],[2.64,-2.83],[2.8,-3.22],[2.37,-3.44],[2.46,-3.62],[2.29,-3.75],[2.57,-3.76],[2.37,-3.93],[2.79,-3.9],[3.11,-3.8],[3.25,-3.93],[3.65,-3.89],[3.94,-3.76],[4.11,-3.91],[4.41,-3.91],[4.54,-3.83],[4.61,-3.91],[4.8,-3.91],[4.89,-3.95],[3.83,-4.07],[4.21,-4.11],[4.6,-4.06],[4.86,-4.14],[4.95,-4.17],[5.21,-4.35],[5.3,-4.4],[2.7,-4.07],[2.5,-4.22],[2.65,-4.17],[2.78,-4.24],[2.72,-4.37],[2.93,-4.63],[3.18,-4.61],[3.5,-4.56],[3.08,-4.79],[2.8,-4.91],[3.98,-4.55],[4,-4.64],[3.54,-5.04],[3.62,-5.03],[3.21,-5.17],[4.03,-5.1],[4.14,-5.16],[3.99,-5.25],[3.92,-3.18],[4.13,-3.2],[4.02,-3.36],[4.5,-3.14],[4.45,-3.27],[4.51,-3.36],[4.74,-3.01],[4.67,-3.04],[4.74,-3.24],[4.84,-3.31],[4.79,-3.42],[4.89,-3.47],[4.79,-3.6],[4.78,-3.7],[5.01,-2.98],[5.05,-3.08],[5.11,-3.21],[5.3,-3.24],[5.33,-3.03],[5.07,-3.77],[5.25,-3.67],[5.28,-3.5],[5.5,-3.65],[5.52,-3.73],[5.67,-3.38],[5.66,-3.85],[5.73,-3.81],[5.98,-3.19],[5.14,-2.8],[5.34,-2.78],[4.71,-2.82],[4.1,-2.82],[4.26,-2.79],[4.05,-2.65],[4.26,-2.69],[4.56,-2.67],[4.49,-2.59],[4.77,-2.68],[1.17,-4.17],[1.21,-4.32],[1.16,-4.45],[1.41,-4.47],[1.26,-4.61],[1.43,-4.6],[1.26,-4.71],[1.84,-4.74],[1.38,-3.93],[1.53,-3.89],[1.17,-4.91],[.87,-4.97],[.76,-4.89],[.64,-4.97],[.61,-5.04],[.78,-5.16],[.82,-5.22],[.89,-.03],[.87,-.14],[1.4,-.18],[1.27,-.32],[1.54,-.53],[.93,-.79],[.95,-.86],[1.03,-.93],[.96,-1.05],[.91,-1.09],[.95,-1.14],[1.04,-1.28],[1.31,-.81],[1.35,-.94],[1.34,-1.35],[1.22,-1.43],[1.39,-1.5],[1.37,-1.64],[1.55,-1.67],[1.01,-1.74],[1.02,-1.92],[.95,-2.03],[1.38,-1.87],[1.52,-1.97],[1.44,-2.05],[1.48,-2.25],[1.6,-2.32]];
const tealLower=[[-4.97,-.21],[-5.13,-.29],[-5.02,-.36],[-4.25,-.14],[-4.05,-.15],[-3.64,-.19],[-3.34,-.18],[-2.9,-.21],[-2.69,-.25],[-2.87,-.32],[-2.74,-.3],[-3.81,-.4],[-2.36,-.41],[-2.01,-.38],[-1.97,-.16],[-1.8,-.2],[-1.45,-.43],[-2.87,-.49],[-2.87,-.55],[-2.83,-.6],[-2.02,-.64],[-1.93,-.64],[-1.45,-.78],[-3.17,-.67],[-3.04,-.73],[-3.11,-.82],[-3.08,-.95],[-3.67,-.79],[-3.58,-.89],[-3.44,-1.02],[-2.29,-.86],[-2.21,-.91],[-1.61,-.99],[-2.05,-1.02],[-2,-1.07],[-2.21,-1.14],[-1.81,-1.17],[-1.55,-1.26],[-1.35,-1.24],[-2.75,-1.25],[-2.62,-1.3],[-2.46,-1.43],[-3.33,-1.24],[-2.03,-1.46],[-2.23,-1.55],[-1.74,-1.49],[-1.64,-1.51],[-1.84,-1.64],[-1.29,-1.49],[-2.29,-1.79],[-2.09,-1.79],[-1.85,-1.88],[-1.67,-2.15],[-2,-2.2],[-2.35,-2.34],[-2.81,-2.2],[-2.95,-2.28],[-2.63,-2.41],[-2.91,-2.42],[-2.81,-2.46],[-2.87,-2.52],[-1.81,-2.32],[-1.91,-2.37],[-1.88,-2.49],[-1.71,-2.47],[-2.01,-2.6],[-1.52,-2.56],[-2.42,-2.64],[-1.83,-2.74],[-1.43,-2.81],[-2.58,-2.76],[-2.87,-2.8],[-3.16,-2.71],[-3.4,-2.72],[-3.3,-2.84],[-3.65,-2.82],[-3.68,-2.69],[-3.65,-2.61],[-3.69,-2.49],[-4.03,-2.65],[-4.02,-2.86],[-3.91,-3],[-3.94,-3.07],[-4.15,-3.14],[-3.83,-3.2],[-3.68,-3.32],[-3.94,-3.43],[-4.39,-3.31],[-4.61,-3.24],[-4.67,-3.23],[-4.81,-3.15],[-4.92,-3.36],[-4.82,-2.92],[-4.67,-2.92],[-5.07,-2.64],[-5.08,-2.49],[-4.83,-2.47],[-4.71,-2.58],[-4.54,-2.45],[-4.07,-2.24],[-3.9,-2.31],[-3.89,-2.2],[-4.03,-2.08],[-4.18,-1.93],[-4.48,-2],[-4.83,-1.9],[-4.76,-1.81],[-4.7,-1.73],[-3.65,-1.76],[-3.75,-1.66],[-3.74,-1.5],[-3.8,-1.35],[-4.08,-1.41],[-4.11,-1.19],[-4.13,-1],[-4,-1.04],[-4.71,-.82],[-4.93,-1.15],[-5.23,-1.26],[-5.08,-1.29],[-4.49,-1.36],[-4.82,-1.41],[-4.95,-1.45],[-4.81,-1.51],[-5.29,-1.58],[-5.61,-1.83],[-5.72,-2.02],[-5.5,-2.21],[-5.67,-2.28],[-5.71,-2.43],[-5.84,-2.48],[-5.89,-1.51],[-6.01,-1.6],[-6.19,-1.41],[-6.22,-1.55],[-6.14,-1.47],[-6.16,-1.69],[-6.64,-1.68],[-6.54,-1.69],[-6.54,-1.88],[-6.82,-1.97],[-7.41,-1.45],[-6.82,-1.19],[-6.52,-1.11],[-6.41,-.71],[-6.1,-.92],[-5.65,-1],[-7.76,-1.87],[-7.55,-2.17],[-7.25,-2.57],[-7.27,-2.72],[-7.61,-3.08],[-7,-3.04],[-6.99,-3.38],[-6.73,-3.24],[-6.57,-3.17],[-6.26,-3.08],[-7.4,-3.5],[-6.74,-3.48],[-6.43,-3.52],[-7.61,-3.7],[-7.39,-3.7],[-7.1,-3.68],[-6.8,-3.88],[-5.95,-3.77],[-5.88,-3.76],[-5.8,-3.26],[-5.51,-3.29],[-5.54,-3.05],[-5.19,-3.74],[-4.13,-3.78],[-4.3,-3.91],[-3.25,-3.44],[-3.12,-3.57],[-2.69,-3.5],[-3.08,-3.73],[-2.88,-3.78],[-3.01,-3.88],[-3,-3.95],[-2.62,-2.91],[-2.62,-2.97],[-2.58,-3.04],[-2.65,-3.11],[-2.14,-3.02],[-2.31,-3.34],[-2.14,-3.45],[-1.98,-3.36],[-2.03,-3.47],[-1.92,-3.18],[-1.85,-3.25],[-1.73,-3.1],[-1.63,-3.21],[-1.64,-2.95],[-1.38,-2.95],[-1.32,-3.04],[-1.59,-3.57],[-1.71,-3.62],[-1.28,-3.66],[-1.3,-3.77],[-2.17,-3.82],[-2.02,-3.85],[-1.93,-3.78],[-2.46,-3.82],[-2.46,-3.9],[-1.56,-3.91],[-1.44,-3.98],[-.97,-2.58],[-.7,-2.56],[-.68,-2.85],[-.52,-2.84],[-.61,-2.99],[-.83,-3.43],[-.23,-3.2],[-.22,-3.29],[-.35,-3.37],[.31,-3.13],[.64,-3.05],[.77,-2.95],[.64,-3.17],[.73,-3.42],[.62,-3.49],[-.18,-3.86],[.42,-2.69],[.64,-2.72],[-.7,-2.11],[-.54,-2.18],[-.27,-2.07],[-.07,-2.02],[.1,-2.1],[.57,-2.08],[.45,-2.25],[.34,-2.41],[-.19,-2.18],[-.13,-2.25],[-.05,-2.31],[.02,-2.4],[-.23,-2.47],[-.11,-2.49],[-.9,-1.34],[-.96,-1.57],[-.58,-1.53],[-.44,-1.63],[-.54,-1.74],[-.9,-1.77],[-.81,-1.8],[-.93,-1.87],[-.94,-1.12],[-.72,-1.04],[-.82,-.89],[-.45,-1.06],[-.27,-1.18],[-.26,-1.06],[-.16,-1.01],[-.11,-1.37],[.07,-1.46],[.31,-1.43],[.56,-1.4],[.15,-1.61],[.22,-1.63],[.49,-1.73],[.76,-.7],[.83,-.13],[.92,-.01],[-7.54,-4.07],[-7.25,-4.08],[-5.8,-4.05],[-4.34,-4.07],[-3.94,-4.05],[-3.91,-4.14],[-3.89,-4.26],[-3.82,-4.42],[-7.58,-4.29],[-7.43,-4.34],[-6.26,-4.29],[-6.33,-4.34],[-6.05,-4.37],[-5.09,-4.26],[-5.24,-4.4],[-4.31,-4.47],[-4.6,-4.53],[-4.6,-4.63],[-4.67,-4.74],[-6.33,-4.61],[-7.27,-4.7],[-6.12,-4.83],[-6.27,-4.94],[-5.28,-4.82],[-4.55,-4.89],[-5,-4.94],[-5.14,-5.01],[-5.88,-5.02],[-7.32,-5.01],[-7.23,-5],[-6.92,-5.03],[-7.48,-5.2],[-7.15,-5.23],[-6.93,-5.34],[-5.09,-5.2],[-5.18,-5.23],[-6.04,-5.35],[-6,-5.43],[-5.87,-5.43],[-4.68,-5.4],[-4.74,-5.45],[-4.48,-5.35],[-4.5,-5.49],[-6.1,-5.74],[-6.55,-5.88],[-5.61,-5.78],[-5.32,-5.75],[-5.59,-6.03],[-5.39,-6.04],[-5.23,-6.03],[-5.38,-6.18],[-5.14,-6.16],[-4.51,-6.36],[-4.1,-6.68],[-4.06,-4.64],[-3.96,-4.67],[-3.82,-4.75],[-4.09,-4.79],[-3.93,-4.84],[-4,-5.11],[-3.96,-5.09],[-3.76,-5.29],[-3.76,-5.45],[-3.57,-5.54],[-3.9,-5.69],[-3.77,-5.69],[-3.94,-5.75],[-3.52,-5],[-3.39,-5.2],[-3.42,-5.26],[-3.27,-5.28],[-2.92,-5.14],[-3.37,-4.29],[-3.25,-4.24],[-3.17,-4.21],[-3.05,-4.26],[-2.82,-4.24],[-2.82,-4.31],[-3.23,-4.48],[-3.05,-4.42],[-2.86,-4.42],[-2.72,-4.5],[-2.97,-4.58],[-3.05,-4.63],[-3.38,-4.71],[-3.43,-4.82],[-3.26,-4.86],[-3,-4.77],[-2.66,-4.67],[-2.73,-4.73],[-2.62,-4.83],[-2.85,-4.9],[-2.69,-4.9],[-2.3,-4.04],[-2,-4.03],[-2.15,-4.18],[-1.67,-4.24],[-2.08,-4.45],[-1.86,-4.53],[-1.76,-4.56],[-1.28,-4.58],[-1.11,-4.24],[-.65,-4.14],[-.12,-4.05],[.09,-4.13],[.38,-4.07],[.83,-4.02],[-.17,-4.3],[.05,-4.3],[.15,-4.32],[-.14,-4.44],[-.01,-4.43],[-.56,-4.47],[-.48,-4.58],[-.87,-4.78],[-1.92,-4.84],[-1.7,-4.81],[-1.53,-4.83],[-.52,-4.84],[-.41,-4.82],[-.17,-4.82],[.41,-4.89],[.74,-4.9],[.66,-4.97],[.86,-4.97],[.63,-5.05],[.77,-5.16],[.8,-5.22],[-1.23,-5.02],[-.72,-5.03],[-.14,-5.05],[-.51,-5.13],[-.73,-5.17],[-.73,-5.3],[-1.08,-5.34],[-2.15,-5.25],[-1.95,-5.26],[-1.79,-5.38],[-1.6,-5.41],[-1.97,-5.41],[-2.42,-5.35],[-2.62,-5.57],[-2.02,-5.58],[-1.79,-5.53],[-1.92,-5.66],[-1.64,-5.64],[.04,-5.45],[-1.14,-5.67],[-1.22,-5.69],[-.86,-5.6],[-.48,-5.69],[-.3,-5.69],[0,-5.8],[-.14,-5.88],[-1.15,-5.92],[-.79,-5.94],[-2.3,-5.79],[-2.07,-5.91],[-1.76,-5.88],[-1.65,-5.92],[-1.57,-6.05],[-1.54,-6.18],[-1.3,-6.08],[-1.4,-6.26],[-1.32,-6.23],[-1.74,-6.25],[-1.63,-6.39],[-1.72,-6.52],[-3.2,-5.81],[-2.92,-5.85],[-3.04,-5.9],[-3.75,-6.03],[-3.8,-6.15],[-3.88,-6.25],[-3.66,-6.24],[-3.3,-6.12],[-3.04,-6.15],[-2.8,-6.14],[-3.01,-6.37],[-2.74,-6.37],[-2.98,-6.54],[-2.49,-6.63],[-2.27,-6.64],[-2.91,-6.78]];

const colors=["#F8766D","#00BFC4"], gridColor="#EBEBEB";
const svg=d3.select("#c"), font="'Liberation Sans',Arial,sans-serif";
const x=d3.scaleLinear().domain([-10.61,8.505]).range([128.6,1803]);
const y=d3.scaleLinear().domain([8.577,-7.63]).range([97,1971]);
const grid=svg.append("g");
const vLine=(v,w)=>grid.append("line").attr("x1",x(v)).attr("x2",x(v)).attr("y1",97).attr("y2",1971).attr("stroke",gridColor).attr("stroke-width",w);
const hLine=(v,w)=>grid.append("line").attr("x1",128.6).attr("x2",1803).attr("y1",y(v)).attr("y2",y(v)).attr("stroke",gridColor).attr("stroke-width",w);
xMinor.forEach(v=>vLine(v,2.3));yMinor.forEach(v=>hLine(v,2.3));
xMajor.forEach(v=>vLine(v,4.5));yMajor.forEach(v=>hLine(v,4.5));
const redPts=redTail.slice();
[redUpperRows,redRightRows,redLowerRows].forEach(rows=>rows.forEach(r=>r.slice(1).forEach(v=>redPts.push([v,r[0]]))));
const tealPts=[...tealUpper,...tealRight,...tealLower];
const R=10, redR=11.6;
svg.append("g").attr("fill",colors[0]).selectAll("circle").data(redPts).join("circle").attr("cx",d=>x(d[0])).attr("cy",d=>y(d[1])).attr("r",redR);
svg.append("g").attr("fill",colors[1]).selectAll("circle").data(tealPts).join("circle").attr("cx",d=>x(d[0])).attr("cy",d=>y(d[1])).attr("r",R);
const fmt=d=>String(d);
const ax=svg.append("g").attr("transform","translate(0,2004)").call(d3.axisBottom(x).tickValues(xMajor).tickSize(0).tickPadding(0).tickFormat(fmt));
const ay=svg.append("g").attr("transform","translate(107,0)").call(d3.axisLeft(y).tickValues(yMajor).tickSize(0).tickPadding(0).tickFormat(fmt));
[ax,ay].forEach(a=>{a.select(".domain").remove();a.selectAll("text").attr("font-family",font).attr("font-size",36.7).attr("fill","#4D4D4D");});
ax.selectAll("text").attr("dy","13").attr("y",0);
ay.selectAll("text").attr("dy","13").attr("x",0);
const txt=(s,xx,yy,sz,anc)=>svg.append("text").attr("x",xx).attr("y",yy).attr("font-family",font).attr("font-size",sz).attr("text-anchor",anc||"start").attr("fill","#000").text(s);
txt(titleText,128.6,63,55);
txt(xLabel,966,2068,45.8,"middle");
txt(yLabel,0,0,45.8,"middle").attr("transform","translate(59,1034) rotate(-90)");
txt(legendTitle,1873,967,45.8);
const legendY=d3.scalePoint().domain(categories).range([1030,1102]);
categories.forEach((c,i)=>{
 svg.append("circle").attr("cx",1908).attr("cy",legendY(c)).attr("r",R).attr("fill",colors[i]);
 txt(c,1968,legendY(c)+13,36.7);
});
</script></body></html>
